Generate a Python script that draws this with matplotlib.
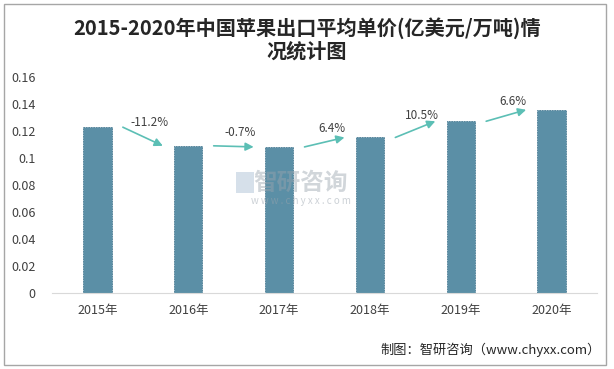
import matplotlib
matplotlib.use("Agg")
import matplotlib.pyplot as plt
from matplotlib.patches import Rectangle

plt.rcParams['font.family'] = ['Noto Sans CJK SC', 'DejaVu Sans']

years = ['2015年', '2016年', '2017年', '2018年', '2019年', '2020年']
prices = [0.1228, 0.1090, 0.1082, 0.1152, 0.1272, 0.1357]
growth = ['-11.2%', '-0.7%', '6.4%', '10.5%', '6.6%']
yticks = [0, 0.02, 0.04, 0.06, 0.08, 0.1, 0.12, 0.14, 0.16]
ytick_labels = ['0', '0.02', '0.04', '0.06', '0.08', '0.1', '0.12', '0.14', '0.16']

fig = plt.figure(figsize=(6.14, 3.69), dpi=100)
ax = fig.add_axes([0.0847, 0.206, 0.8876, 0.5854])

x = list(range(len(years)))
ax.bar(x, prices, width=0.31, color='#5B8FA6', edgecolor='#4D7E95',
       linewidth=0.6, linestyle=(0, (2, 1)), zorder=2)

ax.set_xlim(-0.5, len(years) - 0.5)
ax.set_ylim(0, 0.16)
ax.set_yticks(yticks)
ax.set_yticklabels(ytick_labels)
ax.set_xticks(x)
ax.set_xticklabels(years)
ax.tick_params(axis='both', length=0, colors='#404040', labelsize=9)
ax.tick_params(axis='y', pad=12)
ax.tick_params(axis='x', pad=8)
for s in ['top', 'right', 'left']:
    ax.spines[s].set_visible(False)
ax.spines['bottom'].set_color('#D9D9D9')

arrow_color = '#5CBFB5'
for i, g in enumerate(growth):
    x0, y0 = i + 0.28, prices[i]
    x1, y1 = i + 1 - 0.28, prices[i + 1]
    ax.annotate('', xy=(x1, y1), xytext=(x0, y0),
                arrowprops=dict(arrowstyle='-|>', color=arrow_color, lw=1.2,
                                mutation_scale=12, shrinkA=0, shrinkB=0),
                zorder=3)
    ax.annotate(g, xy=((x0 + x1) / 2, (y0 + y1) / 2), xytext=(5, 10),
                textcoords='offset points', ha='center', va='center',
                fontsize=8.5, color='#404040')

# watermark
fig.text(0.49, 0.505, '智研咨询', fontsize=17, color='#9AA4AE', alpha=0.45,
         ha='center', va='center', fontweight='bold')
fig.text(0.49, 0.455, 'w w w . c h y x x . c o m', fontsize=7, color='#9AA4AE',
         alpha=0.5, ha='center', va='center')
fig.patches.append(Rectangle((0.385, 0.478), 0.028, 0.055, transform=fig.transFigure,
                             facecolor='#AFC3D6', alpha=0.5, edgecolor='none'))

fig.text(0.5, 0.925, '2015-2020年中国苹果出口平均单价(亿美元/万吨)情', fontsize=14.5,
         fontweight='bold', ha='center', va='center', color='#262626')
fig.text(0.5, 0.862, '况统计图', fontsize=14.5, fontweight='bold',
         ha='center', va='center', color='#262626')
fig.text(0.978, 0.052, '制图：智研咨询（www.chyxx.com）', fontsize=9.5,
         ha='right', va='center', color='#262626')

fig.patches.append(Rectangle((0.007, 0.01), 0.98, 0.98, transform=fig.transFigure,
                             facecolor='none', edgecolor='#A6A6A6', linewidth=1))

fig.savefig('out.png', dpi=100)
